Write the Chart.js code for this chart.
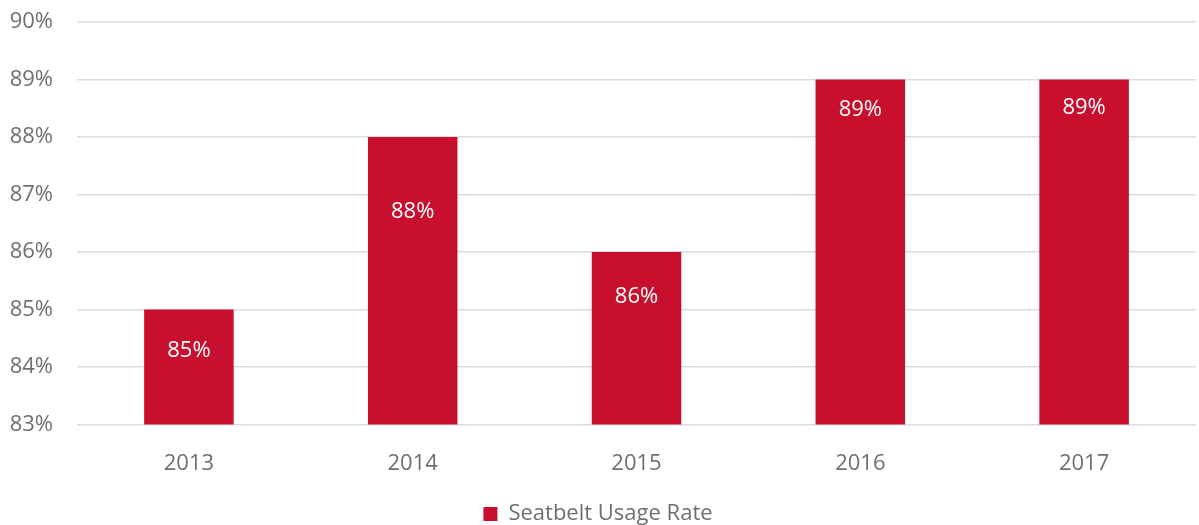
<!DOCTYPE html>
<html>
<head>
<meta charset="utf-8">
<script src="https://cdn.jsdelivr.net/npm/chart.js@4/dist/chart.umd.min.js"></script>
<style>
  html, body { margin: 0; padding: 0; background: #fff; }
  #wrap { width: 1199px; height: 525px; }
</style>
</head>
<body>
<div id="wrap"><canvas id="myChart"></canvas></div>
<script>
const years = ['2013', '2014', '2015', '2016', '2017'];
const usageRate = [85, 88, 86, 89, 89];
const seriesName = 'Seatbelt Usage Rate';

// how far below the bar top the value label sits
const labelDrop = [41, 75, 45, 30, 28];

const barLabels = {
  id: 'barLabels',
  afterDatasetsDraw(chart) {
    const ctx = chart.ctx;
    const meta = chart.getDatasetMeta(0);
    ctx.save();
    ctx.fillStyle = '#ffffff';
    ctx.font = '22px "Open Sans", sans-serif';
    ctx.textAlign = 'center';
    ctx.textBaseline = 'middle';
    meta.data.forEach((bar, i) => {
      ctx.fillText(usageRate[i] + '%', bar.x, bar.y + labelDrop[i]);
    });
    ctx.restore();
  }
};

const ctx = document.getElementById('myChart');

new Chart(ctx, {
  type: 'bar',
  data: {
    labels: years,
    datasets: [{
      label: seriesName,
      data: usageRate,
      backgroundColor: '#c8102e',
      categoryPercentage: 0.8,
      barPercentage: 0.5
    }]
  },
  options: {
    responsive: true,
    maintainAspectRatio: false,
    animation: false,
    layout: { padding: { top: 22, right: 3, left: 0, bottom: -10 } },
    scales: {
      y: {
        min: 83,
        max: 90,
        ticks: {
          stepSize: 1,
          color: '#6f6f6f',
          font: { size: 22, family: '"Open Sans", sans-serif' },
          padding: 24,
          callback: v => v + '%'
        },
        grid: { color: '#dcdcdc', lineWidth: 1.5, drawTicks: false },
        border: { display: false },
        afterFit: axis => {
          axis.width = 77;
          axis.paddingTop = 0;
          axis.paddingBottom = 0;
        }
      },
      x: {
        ticks: {
          color: '#6f6f6f',
          font: { size: 22, family: '"Open Sans", sans-serif' },
          padding: 18
        },
        grid: { display: false },
        border: { display: false }
      }
    },
    plugins: {
      legend: {
        position: 'bottom',
        labels: {
          color: '#6f6f6f',
          font: { size: 22, family: '"Open Sans", sans-serif' },
          boxWidth: 14,
          boxHeight: 14,
          padding: 8
        }
      },
      tooltip: { enabled: false }
    }
  },
  plugins: [barLabels]
});
</script>
</body>
</html>
